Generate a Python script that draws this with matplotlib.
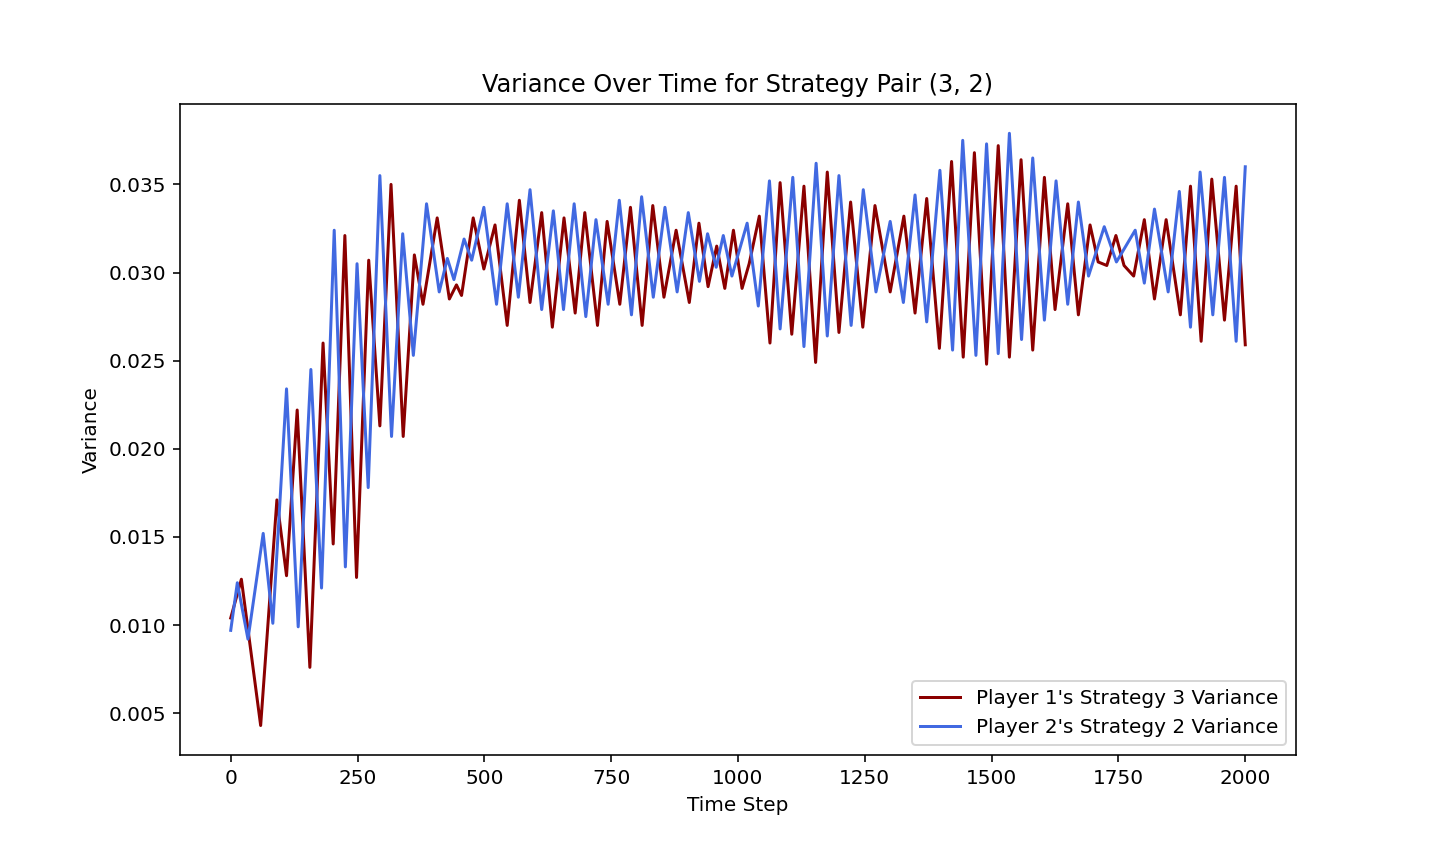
import matplotlib
matplotlib.use("Agg")
import matplotlib.pyplot as plt

# Turning points (time step, variance)
p1_steps = [0, 21, 59, 91, 110, 131, 156, 182, 202, 225, 248, 272, 294, 316, 340,
            362, 379, 407, 431, 445, 455, 478, 499, 521, 545, 569, 590, 613, 634,
            657, 679, 698, 723, 742, 767, 788, 811, 832, 854, 878, 904, 923, 941,
            958, 974, 991, 1008, 1022, 1042, 1063, 1083, 1106, 1130, 1153, 1176,
            1199, 1222, 1246, 1270, 1300, 1327, 1349, 1372, 1397, 1421, 1444, 1466,
            1490, 1513, 1535, 1558, 1581, 1604, 1625, 1650, 1671, 1694, 1710, 1727,
            1745, 1761, 1780, 1801, 1821, 1844, 1872, 1892, 1913, 1934, 1959, 1982,
            2000]
p1_var = [0.0104, 0.0126, 0.0043, 0.0171, 0.0128, 0.0222, 0.0076, 0.0260, 0.0146,
          0.0321, 0.0127, 0.0307, 0.0213, 0.0350, 0.0207, 0.0310, 0.0282, 0.0331,
          0.0285, 0.0293, 0.0287, 0.0331, 0.0302, 0.0327, 0.0270, 0.0341, 0.0283,
          0.0334, 0.0269, 0.0331, 0.0277, 0.0334, 0.0270, 0.0329, 0.0282, 0.0337,
          0.0270, 0.0338, 0.0286, 0.0324, 0.0283, 0.0328, 0.0292, 0.0315, 0.0291,
          0.0324, 0.0291, 0.0305, 0.0332, 0.0260, 0.0351, 0.0265, 0.0349, 0.0249,
          0.0357, 0.0266, 0.0340, 0.0269, 0.0338, 0.0289, 0.0332, 0.0277, 0.0342,
          0.0257, 0.0363, 0.0252, 0.0368, 0.0248, 0.0372, 0.0252, 0.0364, 0.0256,
          0.0354, 0.0279, 0.0339, 0.0276, 0.0327, 0.0306, 0.0304, 0.0321, 0.0304,
          0.0298, 0.0330, 0.0285, 0.0330, 0.0276, 0.0349, 0.0261, 0.0353, 0.0273,
          0.0349, 0.0259]

p2_steps = [0, 13, 34, 64, 83, 110, 133, 158, 179, 204, 226, 249, 271, 294, 317,
            339, 360, 386, 411, 427, 440, 460, 475, 499, 524, 545, 567, 590, 613,
            636, 656, 677, 700, 720, 744, 766, 790, 810, 833, 856, 880, 902, 924,
            940, 957, 971, 988, 1018, 1040, 1062, 1083, 1108, 1130, 1154, 1176,
            1199, 1223, 1247, 1272, 1300, 1326, 1349, 1372, 1398, 1423, 1443, 1469,
            1490, 1513, 1535, 1559, 1581, 1604, 1627, 1650, 1671, 1691, 1722, 1746,
            1783, 1801, 1821, 1848, 1870, 1892, 1911, 1936, 1959, 1982, 2000]
p2_var = [0.0097, 0.0124, 0.0092, 0.0152, 0.0101, 0.0234, 0.0099, 0.0245, 0.0121,
          0.0324, 0.0133, 0.0305, 0.0178, 0.0355, 0.0207, 0.0322, 0.0253, 0.0339,
          0.0289, 0.0308, 0.0296, 0.0319, 0.0307, 0.0337, 0.0282, 0.0339, 0.0286,
          0.0347, 0.0279, 0.0335, 0.0279, 0.0339, 0.0275, 0.0330, 0.0282, 0.0341,
          0.0276, 0.0343, 0.0286, 0.0337, 0.0289, 0.0334, 0.0295, 0.0322, 0.0303,
          0.0321, 0.0298, 0.0328, 0.0281, 0.0352, 0.0268, 0.0354, 0.0258, 0.0362,
          0.0264, 0.0355, 0.0270, 0.0347, 0.0289, 0.0329, 0.0283, 0.0344, 0.0272,
          0.0358, 0.0256, 0.0375, 0.0253, 0.0373, 0.0254, 0.0379, 0.0262, 0.0365,
          0.0273, 0.0352, 0.0282, 0.0340, 0.0298, 0.0326, 0.0306, 0.0324, 0.0294,
          0.0336, 0.0289, 0.0346, 0.0269, 0.0357, 0.0276, 0.0354, 0.0261, 0.0360]

fig, ax = plt.subplots(figsize=(10, 6), dpi=144)
fig.subplots_adjust(bottom=0.126)

ax.plot(p1_steps, p1_var, color='darkred', label="Player 1's Strategy 3 Variance")
ax.plot(p2_steps, p2_var, color='royalblue', label="Player 2's Strategy 2 Variance")

ax.set_title('Variance Over Time for Strategy Pair (3, 2)')
ax.set_xlabel('Time Step')
ax.set_ylabel('Variance')
ax.legend(loc='lower right')

fig.savefig('out.png')
